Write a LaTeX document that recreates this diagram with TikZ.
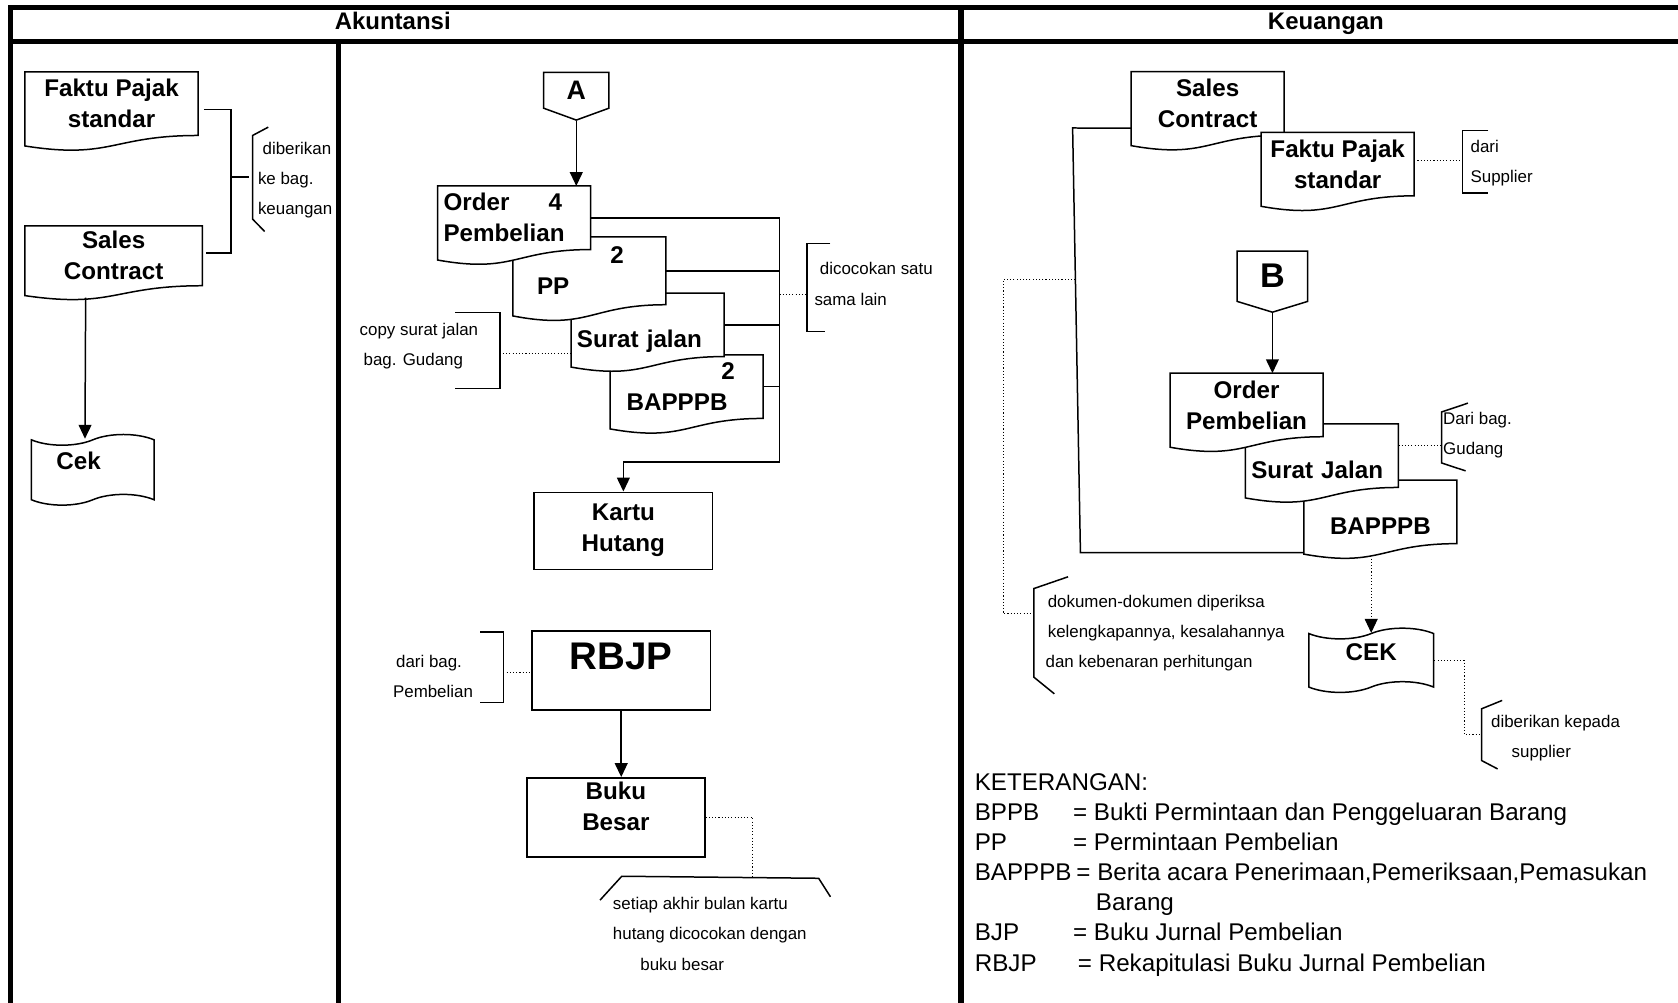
\documentclass[tikz,border=0pt]{standalone}
\usepackage{fontspec}
\setmainfont{Liberation Sans}
\usetikzlibrary{arrows.meta,positioning,shapes,calc}

\makeatletter
% document symbol: a rectangle with a wavy lower edge
\pgfdeclareshape{docsheet}{
  \inheritsavedanchors[from=rectangle]
  \inheritanchorborder[from=rectangle]
  \inheritanchor[from=rectangle]{center}
  \inheritanchor[from=rectangle]{text}
  \inheritanchor[from=rectangle]{base}
  \inheritanchor[from=rectangle]{mid}
  \inheritanchor[from=rectangle]{north}
  \inheritanchor[from=rectangle]{south}
  \inheritanchor[from=rectangle]{east}
  \inheritanchor[from=rectangle]{west}
  \inheritanchor[from=rectangle]{north east}
  \inheritanchor[from=rectangle]{north west}
  \inheritanchor[from=rectangle]{south east}
  \inheritanchor[from=rectangle]{south west}
  \backgroundpath{
    \southwest \edef\docxa{\the\pgf@x}\edef\docya{\the\pgf@y}
    \northeast \edef\docxb{\the\pgf@x}\edef\docyb{\the\pgf@y}
    \pgfpathmoveto{\pgfpoint{\docxa}{\docyb}}
    \pgfpathlineto{\pgfpoint{\docxb}{\docyb}}
    \pgfpathlineto{\pgfpoint{\docxb}{\docya}}
    \pgfpathcurveto{\pgfpoint{0.5*(\docxa)+0.5*(\docxb)}{\docya}}
      {\pgfpoint{0.5*(\docxa)+0.5*(\docxb)}{(\docya)-0.38*((\docyb)-(\docya))}}
      {\pgfpoint{\docxa}{(\docya)-0.165*((\docyb)-(\docya))}}
    \pgfpathclose
  }
}
\makeatother

\begin{document}
\begin{tikzpicture}[x=0.5pt,y=-0.5pt,
  laneline/.style={line width=2.35pt},
  lanehead/.style={anchor=base,font=\bfseries\fontsize{11.2}{13}\selectfont},
  doc/.style={docsheet,draw,fill=white,line width=0.7pt,inner sep=0pt,outer sep=0pt,
    minimum width=71.5pt,minimum height=29.7pt,align=center,
    font=\bfseries\fontsize{11.3}{14.5}\selectfont},
  docleft/.style={align=left,text width=66pt},
  lowtext/.style={text height=21.5pt,text depth=0pt},
  recbox/.style={draw,line width=0.7pt,inner sep=0pt,align=center,
    font=\bfseries\fontsize{11.3}{14.5}\selectfont},
  cheque/.style={tape,draw,fill=white,line width=0.7pt,inner sep=0pt,
    tape bend top=in and out,tape bend bottom=in and out,tape bend height=5pt,
    text height=5pt,text depth=5pt,font=\bfseries\fontsize{11.3}{14.5}\selectfont},
  offpage/.style={signal,signal to=south,draw,line width=0.7pt,inner sep=0pt},
  remark/.style={anchor=north west,inner sep=0pt,align=left,font=\fontsize{7.9}{14.1}\selectfont},
  legendtxt/.style={anchor=north west,inner sep=0pt,align=left,font=\fontsize{11.3}{14.05}\selectfont},
  conn/.style={line width=0.7pt},
  arr/.style={line width=0.7pt,-{Triangle[length=6.5pt,width=6pt]}},
  dotline/.style={line width=0.5pt,dash pattern=on 0.5pt off 1pt}]

\useasboundingbox (0,0) rectangle (1568,937);

%lanes
\draw[laneline] (9.5,937) -- (9.5,7) -- (1568,7);
\draw[laneline] (9.5,38.5) -- (1568,38.5);
\draw[laneline] (316.5,38.5) -- (316.5,937);
\draw[laneline] (898,7) -- (898,937);
\node [lanehead] (akt) at (367,28) {Akuntansi};
\node [lanehead] (keu) at (1239,28) {Keuangan};

%%Akuntansi, left part
\node [doc,minimum width=80.85pt] (lfp) at (104.2,96.9) {Faktu Pajak\\standar};
\node [doc,minimum width=82.85pt,minimum height=28pt] (lsc) at (106.2,239) {Sales\\Contract};
\node [cheque,minimum width=57.3pt,minimum height=33pt,align=left,text width=34pt] (cek) at (86.7,439) {Cek};

\draw[arr] ([xshift=28.35pt,yshift=-5.5pt]lsc.south west) -- ([xshift=25.35pt]cek.north west);

%bracket to keuangan
\draw[conn] ([xshift=2.7pt,yshift=-2.65pt]lfp.east) -| ([xshift=13.45pt,yshift=1.2pt]lsc.east) -- ([xshift=1.8pt,yshift=1.2pt]lsc.east);
\coordinate (kb) at (216,165.6);
\draw[conn] (kb) -- ++(16.3,0);
\draw[conn] (250.7,118.8) -- (236,126.6) -- (236,204.7) -- (247.3,216.3);
\node [remark] (kbtxt) at (240.7,132.4) {\hspace*{2.15pt}diberikan\\ke bag.\\keuangan};

%%Akuntansi, right part
\node [offpage,minimum width=30.5pt,minimum height=18.35pt,signal pointer angle=140,
  font=\bfseries\fontsize{12.5}{15}\selectfont] (A) at (538.5,84.4) {A};

%documents, the lowest one first
\node [doc,docleft] (bap) at (641.6,361.3) {\hspace*{49.2pt}2\\\hspace*{5pt}BAPPPB};
\node [doc,docleft,lowtext] (sj) at (605.1,303.5) {Surat jalan};
\node [doc,docleft,minimum height=31.75pt] (pp) at (550.8,253) {\hspace*{42.8pt}2\\\hspace*{8.5pt}PP};
\node [doc,docleft] (op) at (480.5,203.5) {Order\hspace{18.3pt}4\\Pembelian};

\node [recbox,minimum width=83.5pt,minimum height=36pt] (kh) at (582.5,496) {Kartu\\Hutang\rule[-3pt]{0pt}{3pt}};
\node [recbox,minimum width=83.5pt,minimum height=37pt,text height=0pt,text depth=1pt,
  font=\bfseries\fontsize{18}{20}\selectfont] (rbjp) [below=28pt of kh,xshift=-1pt] {RBJP};
\node [recbox,minimum width=83.15pt,minimum height=36.9pt] (bb) [below=31pt of rbjp,xshift=-2.5pt] {Buku\\Besar\rule[-10pt]{0pt}{10pt}};

\draw[arr] (A.south) -- (A.south |- op.north);
\coordinate (colM) at (728.4,431.7);
\draw[arr] (op.east) -| (colM) -| (kh.north);
\draw[conn] (pp.east) -- (pp.east -| colM);
\draw[conn] (sj.east) -- (sj.east -| colM);
\draw[conn] (bap.east) -- (bap.east -| colM);
\draw[arr] (rbjp.south) -- (rbjp.south |- bb.north);

%copy surat jalan
\coordinate (cpy) at (467,330.5);
\draw[conn] (425.6,292.1) -- (467,292.1) -- (467,363.2) -- (425.6,363.2);
\draw[dotline] (cpy) -- (cpy -| sj.west);
\node [remark] (cpytxt) at (335.7,301.8) {copy surat jalan\\\hspace*{1.85pt}bag. Gudang};

%dicocokan
\coordinate (cocok) at (754,275.4);
\draw[conn] (776,227.3) -- (754,227.3) -- (754,309.8) -- (770.6,309.8);
\draw[dotline] (cocok -| colM) -- (cocok);
\node [remark] (cocoktxt) at (760.7,245) {\hspace*{2.55pt}dicocokan satu\\sama lain};

%dari bag. pembelian
\coordinate (dbp) at (470.4,628.2);
\draw[conn] (448.7,590.5) -- (470.4,590.5) -- (470.4,656.5) -- (448.7,656.5);
\draw[dotline] (dbp) -- (dbp -| rbjp.west);
\node [remark] (dbptxt) at (366.9,612) {\hspace*{1.45pt}dari bag.\\Pembelian};

%setiap akhir bulan
\coordinate (sab) at (703.4,819.5);
\draw[dotline] (bb.east) -| (sab);
\draw[conn] (560.7,841.1) -- (581,818.8) -- (765,820.7) -- (776,838);
\node [remark] (sabtxt) at (572.4,838.2) {setiap akhir bulan kartu\\hutang dicocokan dengan\\\hspace*{12.8pt}buku besar};

%%Keuangan
\node [offpage,minimum width=33pt,minimum height=25.3pt,signal pointer angle=146,
  font=\bfseries\fontsize{16}{18}\selectfont] (B) at (1189,258.1) {B};

\node [doc,lowtext] (rbap) at (1289.9,478.3) {BAPPPB};
\node [doc,docleft,lowtext] (rsj) at (1235.3,425.8) {Surat Jalan};
\node [doc] (rop) at (1164.8,378.4) {Order\\Pembelian};
\node [doc] (rsc) at (1128.5,96.6) {Sales\\Contract};
\node [doc] (rfp) at (1250,153.3) {Faktu Pajak\\standar};
\node [cheque,minimum width=58.3pt,minimum height=30pt] (rcek) at (1281.3,617) {CEK};

\draw[arr] (B.south) -- (B.south |- rop.north);
\coordinate (colR1) at (1002.3,119.6);
\coordinate (colR2) at (1009.6,516.5);
\draw[conn] ([yshift=3.3pt]rsc.south west) -- (colR1) -- (colR2) -- (colR2 -| rbap.west);
\draw[dotline,-{Triangle[length=6.5pt,width=6pt]}] (rbap.south -| rcek.north) ++(0,14) -- (rcek.north);

%dokumen diperiksa
\coordinate (dokb) at (966,573.4);
\draw[dotline] ($(colR1)!0.356!(colR2)$) -- ++(-67.5,0) |- (dokb);
\draw[conn] (998,539) -- (966,550) -- (966,632.7) -- (985.2,648.3);
\node [remark] (doktxt) at (976.7,555.8) {\hspace*{1pt}dokumen-dokumen diperiksa\\\hspace*{1pt}kelengkapannya, kesalahannya\\dan kebenaran perhitungan};

%dari supplier
\coordinate (sup) at (1366.5,150.2);
\draw[dotline] (sup -| rfp.east) -- (sup);
\draw[conn] (1390.9,122) -- (1366.5,122) -- (1366.5,180.2) -- (1390.9,180.2);
\node [remark] (suptxt) at (1373.8,130.5) {dari\\Supplier};

%dari gudang
\coordinate (gud) at (1347,416.6);
\draw[dotline] (gud -| rsj.east) -- (gud);
\draw[conn] (1371.7,376.7) -- (1347,385) -- (1347,432.6) -- (1369.5,440);
\node [remark] (gudtxt) at (1348.2,384.6) {Dari bag.\\Gudang};

%diberikan kepada supplier
\coordinate (kpd) at (1384.5,686.4);
\draw[dotline] (rcek.east) -- ++(27.8,0) |- (kpd);
\draw[conn] (1403.7,654.5) -- (1384.5,662.3) -- (1384.5,710.7) -- (1399.4,718.5);
\node [remark] (kpdtxt) at (1393,668) {diberikan kepada\\\hspace*{9.6pt}supplier};

%keterangan
\node [legendtxt] (ket) at (910.5,722.6) {KETERANGAN:\\
  \makebox[45.9pt][l]{BPPB}= Bukti Permintaan dan Penggeluaran Barang\\
  \makebox[45.9pt][l]{PP}= Permintaan Pembelian\\
  \makebox[47.5pt][l]{BAPPPB}= Berita acara Penerimaan,Pemeriksaan,Pemasukan\\
  \hspace*{56.6pt}Barang\\
  \makebox[45.9pt][l]{BJP}= Buku Jurnal Pembelian\\
  \makebox[48.2pt][l]{RBJP}= Rekapitulasi Buku Jurnal Pembelian};

\end{tikzpicture}
\end{document}
